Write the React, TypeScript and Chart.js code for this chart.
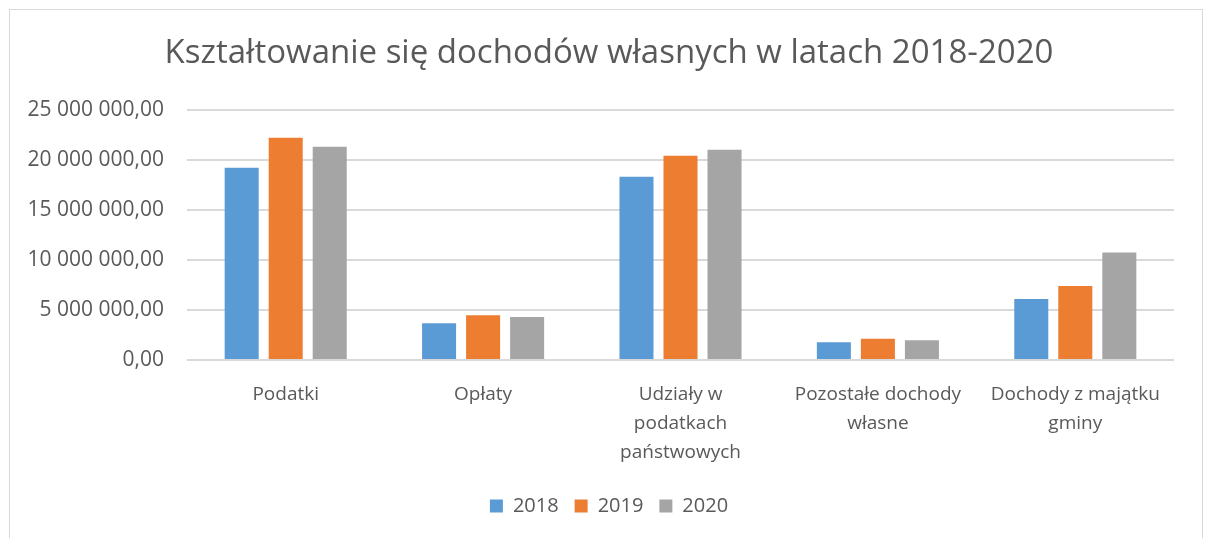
import React, { useEffect, useRef } from "react";
import { Chart, registerables } from "chart.js";

Chart.register(...registerables);

const TITLE = "Kształtowanie się dochodów własnych w latach 2018-2020";
const categories: string[][] = [
  ["Podatki"],
  ["Opłaty"],
  ["Udziały w", "podatkach", "państwowych"],
  ["Pozostałe dochody", "własne"],
  ["Dochody z majątku", "gminy"],
];
const seriesNames = ["2018", "2019", "2020"];
const values2018 = [19200000, 3670000, 18300000, 1770000, 6100000];
const values2019 = [22200000, 4470000, 20400000, 2130000, 7400000];
const values2020 = [21300000, 4300000, 21000000, 1970000, 10730000];
const seriesColors = ["#5B9BD5", "#ED7D31", "#A5A5A5"];
const yMax = 25000000;
const yStep = 5000000;

const FONT = "'Open Sans', sans-serif";
const TEXT = "#595959";

function formatPl(v: number): string {
  const n = Math.round(Math.abs(v));
  const s = String(n).replace(/\B(?=(\d{3})+(?!\d))/g, " ");
  return (v < 0 ? "-" : "") + s + ",00";
}

const centerShift = {
  id: "centerShift",
  afterLayout(chart: any) {
    const off = 34;
    if (chart.titleBlock) chart.titleBlock.left += off;
    if (chart.legend) chart.legend.left += off;
  },
};

export default function App() {
  const ref = useRef<HTMLCanvasElement | null>(null);

  useEffect(() => {
    if (!ref.current) return;
    const data = [values2018, values2019, values2020];
    const chart = new Chart(ref.current, {
      type: "bar",
      plugins: [centerShift],
      data: {
        labels: categories,
        datasets: seriesNames.map((name, i) => ({
          label: name,
          data: data[i],
          backgroundColor: seriesColors[i],
          borderWidth: 0,
          categoryPercentage: 0.669,
          barPercentage: 0.773,
        })),
      },
      options: {
        responsive: false,
        animation: false,
        layout: { padding: { left: 0, right: 28, top: 0, bottom: 12 } },
        plugins: {
          title: {
            display: true,
            text: TITLE,
            color: TEXT,
            font: { family: FONT, size: 33, weight: "normal" },
            padding: { top: 24, bottom: 36 },
          },
          legend: {
            position: "bottom",
            labels: {
              boxWidth: 13,
              boxHeight: 13,
              padding: 16,
              color: TEXT,
              font: { family: FONT, size: 20 },
            },
          },
          tooltip: { enabled: false },
        },
        scales: {
          x: {
            grid: { display: false, drawTicks: false },
            border: { display: false },
            ticks: {
              color: TEXT,
              font: { family: FONT, size: 19, lineHeight: 1.526 },
              padding: 20,
              maxRotation: 0,
              autoSkip: false,
            },
            afterFit: (scale: any) => {
              scale.height = 120;
            },
          },
          y: {
            min: 0,
            max: yMax,
            grid: { color: "#D9D9D9", lineWidth: 2, drawTicks: false },
            border: { display: false },
            ticks: {
              stepSize: yStep,
              color: TEXT,
              font: { family: FONT, size: 21 },
              padding: 23,
              callback: (v: any) => formatPl(Number(v)),
            },
            afterFit: (scale: any) => {
              scale.width = 177;
            },
          },
        },
      },
    });
    return () => chart.destroy();
  }, []);

  return (
    <div
      style={{
        position: "absolute",
        left: 9,
        top: 9,
        width: 1194,
        height: 540,
        boxSizing: "border-box",
        border: "1px solid #D9D9D9",
        background: "#fff",
      }}
    >
      <canvas ref={ref} width={1192} height={528} style={{ display: "block", width: 1192, height: 528 }} />
    </div>
  );
}
